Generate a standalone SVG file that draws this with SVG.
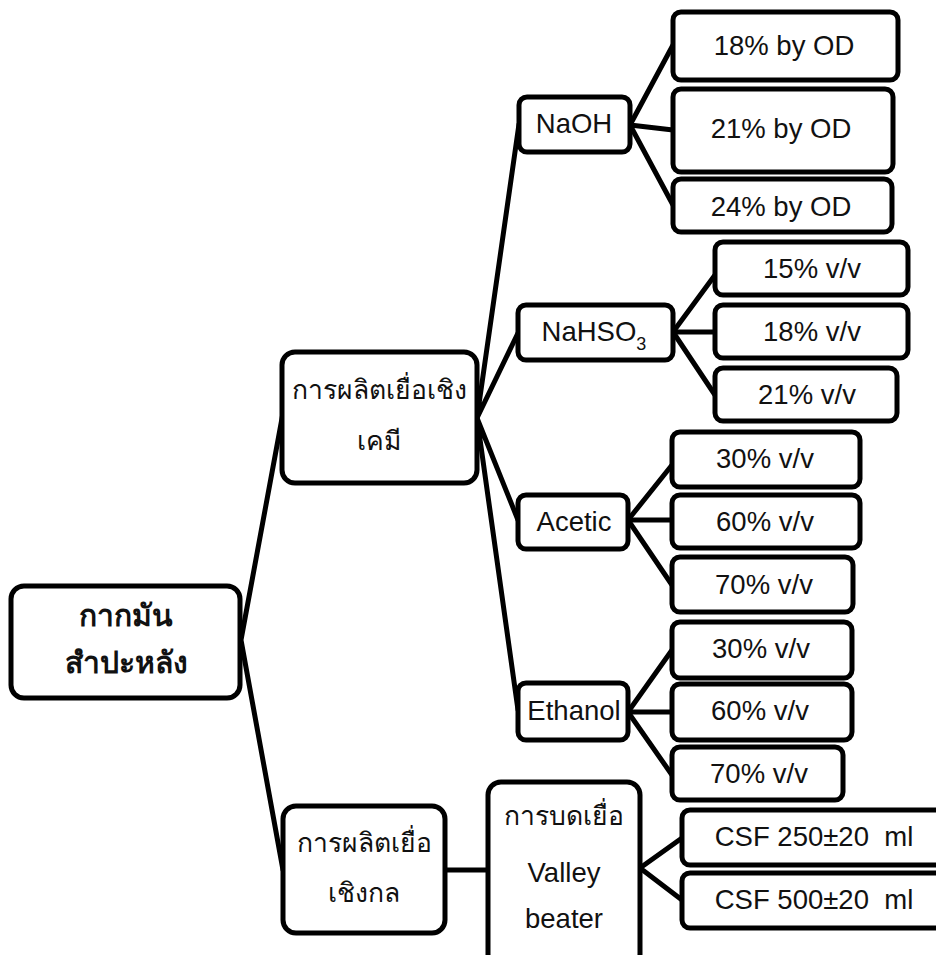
<svg xmlns="http://www.w3.org/2000/svg" width="936" height="955" viewBox="0 0 936 955">
<style>
.box{fill:#fff;stroke:#000;stroke-width:5}
.t{font-family:"Liberation Sans","Noto Sans",sans-serif;font-size:27.5px;fill:#111;text-anchor:middle}
.th{font-family:"Liberation Sans","Noto Sans","DejaVu Sans",sans-serif;font-size:26.5px;fill:#111;text-anchor:middle}
.b{font-weight:bold;font-size:30px}
.c{fill:none;stroke:#000;stroke-width:5;stroke-linecap:round;stroke-linejoin:round}
</style>
<rect width="936" height="955" fill="#fff"/>
<g id="connectors">
<polyline class="c" points="283,413 241,640 283,870"/>
<polyline class="c" points="519,124 477,418 518,333"/>
<polyline class="c" points="518,520 477,418 518,710"/>
<polyline class="c" points="673,45 630,125 673,205"/>
<line class="c" x1="630" y1="125" x2="673" y2="130"/>
<polyline class="c" points="715,275 673,332 715,395"/>
<line class="c" x1="673" y1="332" x2="715" y2="332"/>
<polyline class="c" points="672,465 628,520 672,585"/>
<line class="c" x1="628" y1="520" x2="672" y2="520"/>
<polyline class="c" points="672,650 628,712 672,775"/>
<line class="c" x1="628" y1="712" x2="672" y2="712"/>
<line class="c" x1="445" y1="870" x2="488" y2="870"/>
<polyline class="c" points="682,838 640,868 682,900"/>
</g>
<g id="root">
<rect class="box" x="11" y="586" width="229" height="112" rx="13"/>
<text class="th b" x="126" y="626">กากมัน</text>
<text class="th b" x="126" y="673">สำปะหลัง</text>
</g>
<g id="chem">
<rect class="box" x="282" y="352" width="195" height="131" rx="13"/>
<text class="th" x="379" y="399">การผลิตเยื่อเชิง</text>
<text class="th" x="379" y="450">เคมี</text>
</g>
<g id="mech">
<rect class="box" x="283" y="806" width="162" height="127" rx="13"/>
<text class="th" x="364" y="852">การผลิตเยื่อ</text>
<text class="th" x="364" y="902">เชิงกล</text>
</g>
<g id="valley">
<rect class="box" x="488" y="782" width="152" height="185" rx="13"/>
<text class="th" x="564" y="825">การบดเยื่อ</text>
<text class="t" x="564" y="882">Valley</text>
<text class="t" x="564" y="928">beater</text>
</g>
<g id="csf250">
<rect class="box" x="682" y="810" width="270" height="55" rx="8"/>
<text class="t" x="814" y="846" xml:space="preserve">CSF 250±20  ml</text>
</g>
<g id="csf500">
<rect class="box" x="682" y="873" width="270" height="55" rx="8"/>
<text class="t" x="814" y="909" xml:space="preserve">CSF 500±20  ml</text>
</g>
<g id="naoh">
<rect class="box" x="519" y="97" width="111" height="55" rx="8"/>
<text class="t" x="574" y="133">NaOH</text>
</g>
<g id="naoh18">
<rect class="box" x="673" y="12" width="225" height="68" rx="8"/>
<text class="t" x="784" y="55">18% by OD</text>
</g>
<g id="naoh21">
<rect class="box" x="673" y="89" width="220" height="83" rx="8"/>
<text class="t" x="781" y="138">21% by OD</text>
</g>
<g id="naoh24">
<rect class="box" x="673" y="179" width="219" height="53" rx="8"/>
<text class="t" x="781" y="216">24% by OD</text>
</g>
<g id="nahso3">
<rect class="box" x="518" y="305" width="155" height="55" rx="8"/>
<text class="t" x="594" y="341">NaHSO<tspan font-size="18" dy="9">3</tspan></text>
</g>
<g id="s15">
<rect class="box" x="715" y="242" width="193" height="53" rx="8"/>
<text class="t" x="812" y="278">15% v/v</text>
</g>
<g id="s18">
<rect class="box" x="715" y="305" width="193" height="53" rx="8"/>
<text class="t" x="812" y="341">18% v/v</text>
</g>
<g id="s21">
<rect class="box" x="715" y="368" width="182" height="53" rx="8"/>
<text class="t" x="807" y="404">21% v/v</text>
</g>
<g id="acetic">
<rect class="box" x="518" y="495" width="110" height="54" rx="8"/>
<text class="t" x="574" y="531">Acetic</text>
</g>
<g id="a30">
<rect class="box" x="672" y="432" width="188" height="55" rx="8"/>
<text class="t" x="765" y="468">30% v/v</text>
</g>
<g id="a60">
<rect class="box" x="672" y="495" width="188" height="53" rx="8"/>
<text class="t" x="765" y="531">60% v/v</text>
</g>
<g id="a70">
<rect class="box" x="672" y="557" width="181" height="55" rx="8"/>
<text class="t" x="764" y="594">70% v/v</text>
</g>
<g id="ethanol">
<rect class="box" x="518" y="683" width="110" height="57" rx="8"/>
<text class="t" x="574" y="720">Ethanol</text>
</g>
<g id="e30">
<rect class="box" x="672" y="622" width="180" height="56" rx="8"/>
<text class="t" x="761" y="658">30% v/v</text>
</g>
<g id="e60">
<rect class="box" x="672" y="684" width="180" height="56" rx="8"/>
<text class="t" x="760" y="720">60% v/v</text>
</g>
<g id="e70">
<rect class="box" x="672" y="747" width="171" height="53" rx="8"/>
<text class="t" x="759" y="783">70% v/v</text>
</g>
</svg>
